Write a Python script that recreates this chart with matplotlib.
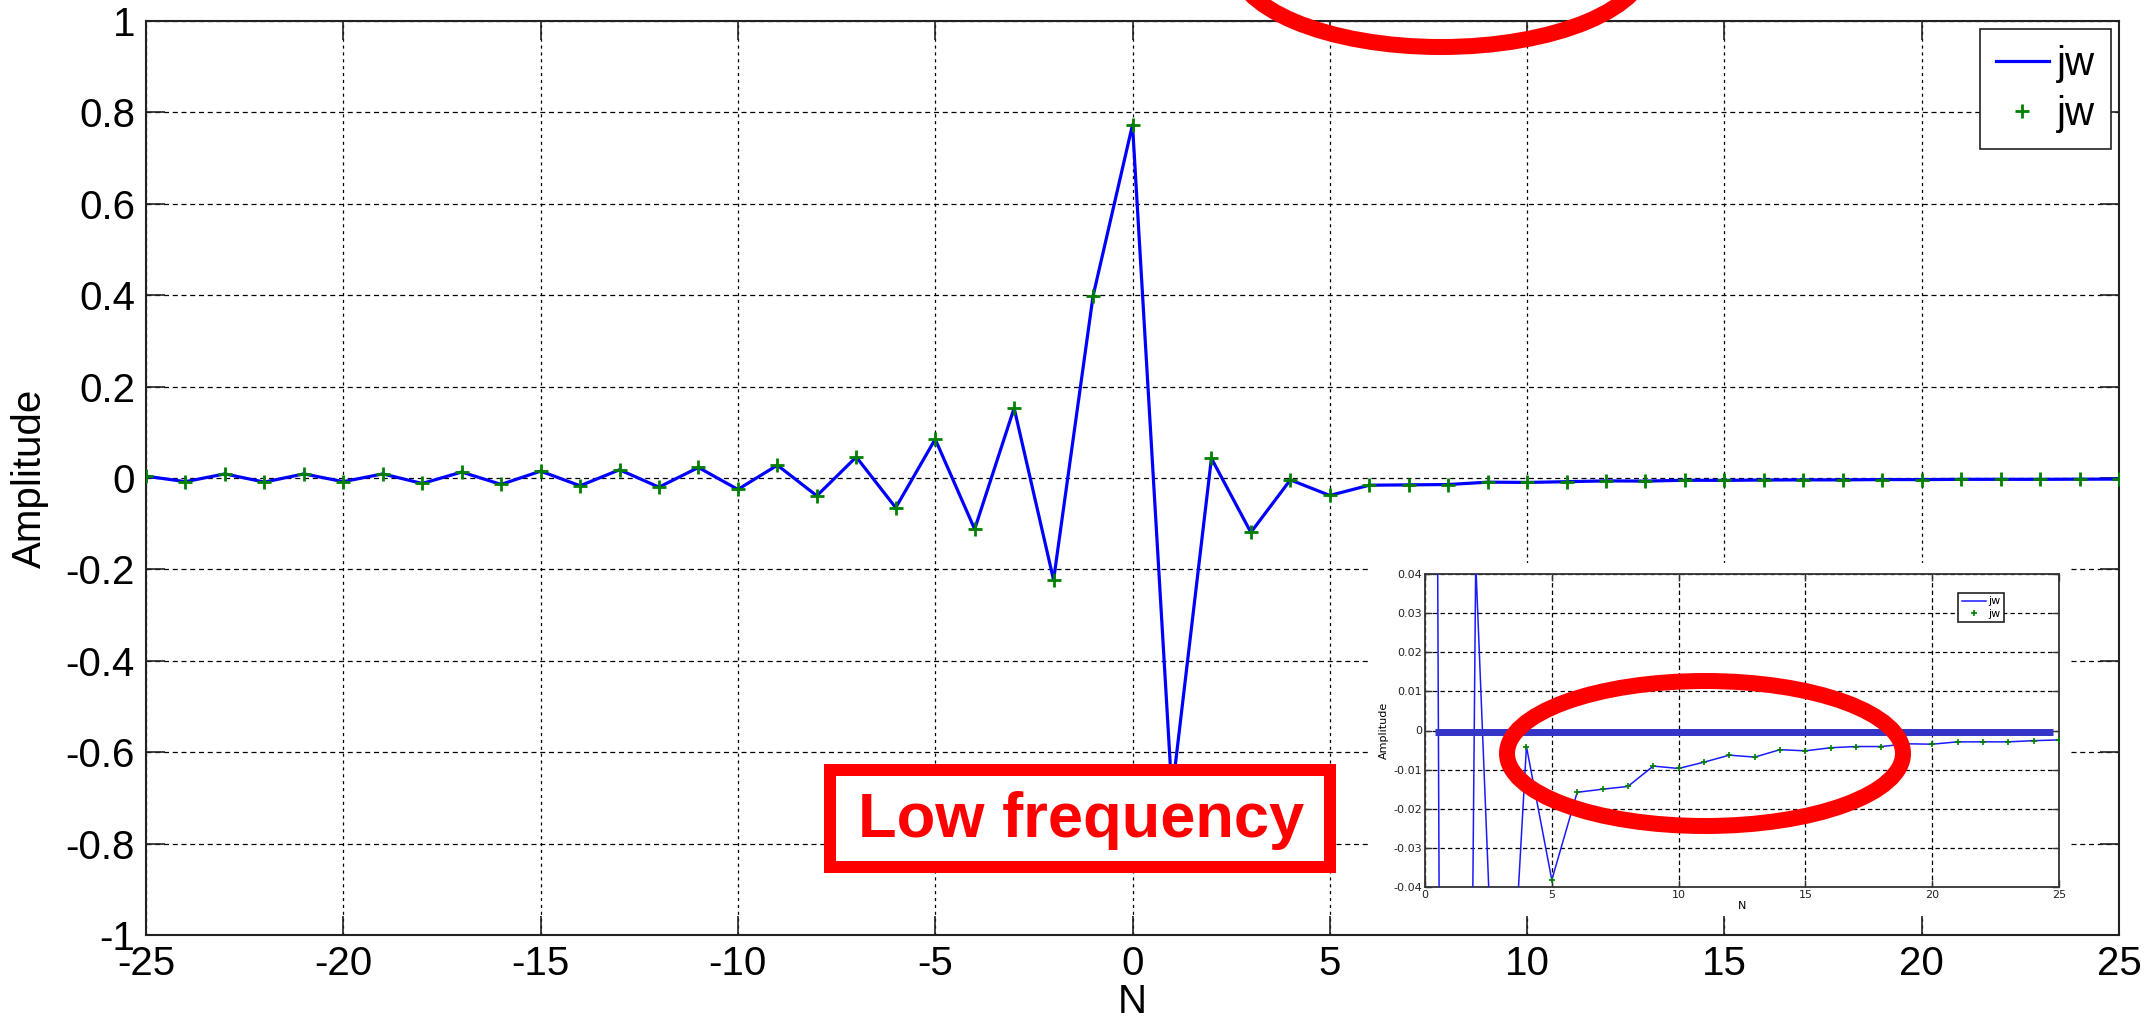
import matplotlib
matplotlib.use('Agg')
import matplotlib.pyplot as plt
from matplotlib.patches import Ellipse, Rectangle

plt.rcParams['font.family'] = ['Liberation Sans', 'DejaVu Sans']

# impulse response samples
n = list(range(-25, 26))
amp = [0.004, -0.008, 0.009, -0.009, 0.009, -0.008, 0.009, -0.012, 0.013, -0.014,
       0.015, -0.017, 0.018, -0.020, 0.023, -0.025, 0.028, -0.039, 0.046, -0.065,
       0.085, -0.112, 0.153, -0.223, 0.398, 0.773, -0.69, 0.043, -0.119, -0.0041,
       -0.0382, -0.0158, -0.0150, -0.0143, -0.0091, -0.0097, -0.0081, -0.0063, -0.0068, -0.0049,
       -0.0052, -0.0044, -0.0041, -0.0041, -0.0034, -0.0035, -0.0029, -0.0029, -0.0029, -0.0026,
       -0.0024]

xticks = list(range(-25, 26, 5))
yticks = [-1, -0.8, -0.6, -0.4, -0.2, 0, 0.2, 0.4, 0.6, 0.8, 1]
ytick_labels = ['-1', '-0.8', '-0.6', '-0.4', '-0.2', '0', '0.2', '0.4', '0.6', '0.8', '1']
zoom_xticks = [0, 5, 10, 15, 20, 25]
zoom_yticks = [-0.04, -0.03, -0.02, -0.01, 0, 0.01, 0.02, 0.03, 0.04]
zoom_ytick_labels = ['-0.04', '-0.03', '-0.02', '-0.01', '0', '0.01', '0.02', '0.03', '0.04']
zero_ref = [0.4, 24.76]   # x span of the reference line in the zoom panel
note_text = 'Low frequency'

W, H = 2144, 1023
PT = 72 / 100.0  # points per pixel at dpi=100
blue = '#0000ff'
green = '#008000'

fig = plt.figure(figsize=(W / 100, H / 100), dpi=100)

def fx(px):
    return px / W

def fy(py):
    return 1 - py / H

# ---- main axes ----
ax = fig.add_axes([fx(146), fy(935), (2119 - 146) / W, (935 - 21) / H])
ax.plot(n, amp, '-', color=blue, lw=2.3, label='jw', zorder=3)
ax.plot(n, amp, '+', color=green, ms=10, mew=2, label='jw', zorder=4)
ax.set_xlim(-25, 25)
ax.set_ylim(-1, 1)
ax.set_xticks(xticks)
ax.set_xticklabels([str(v) for v in xticks])
ax.set_yticks(yticks)
ax.set_yticklabels(ytick_labels)
ax.tick_params(direction='in', top=True, right=True, length=14, width=1.2,
               labelsize=29, colors='#222222', labelcolor='black')
ax.tick_params(axis='x', pad=7)
ax.tick_params(axis='y', pad=8)
ax.xaxis.grid(True, color='k', linestyle=(0, (2.5, 3)), lw=0.9)
ax.yaxis.grid(True, color='k', linestyle=(0, (4, 3)), lw=0.9)
for s in ax.spines.values():
    s.set_linewidth(1.5)
    s.set_color('#222222')
ax.set_xlabel('N', fontsize=29, labelpad=0)
ax.set_ylabel('Amplitude', fontsize=29)
ax.yaxis.set_label_coords(-0.049, 0.5)
leg = ax.legend(loc='upper right', fontsize=29, frameon=True, fancybox=False,
                edgecolor='#222222', framealpha=1, handlelength=1.3, handletextpad=0.2,
                borderaxespad=0.2, borderpad=0.4, labelspacing=0.3, numpoints=1)
leg.get_frame().set_linewidth(1.2)

# ---- zoomed panel ----
fig.add_artist(Rectangle((fx(1370), fy(915)), 699 / W, 352 / H, transform=fig.transFigure,
                         fc='white', ec='none', zorder=3))
axi = fig.add_axes([fx(1425), fy(887), (2059 - 1425) / W, (887 - 574) / H], zorder=4)
axi.plot(n, amp, '-', color='#1a1aff', lw=1.1, label='jw', zorder=3)
axi.plot(n, amp, '+', color=green, ms=5, mew=1.2, label='jw', zorder=4)
axi.plot(zero_ref, [-0.0003, -0.0003], '-', color='#3535c8', lw=7 * PT,
         solid_capstyle='butt', zorder=5)
axi.set_xlim(0, 25)
axi.set_ylim(-0.04, 0.04)
axi.set_xticks(zoom_xticks)
axi.set_yticks(zoom_yticks)
axi.set_yticklabels(zoom_ytick_labels)
axi.tick_params(direction='in', top=True, right=True, length=5, width=1,
                labelsize=8, pad=2, colors='#333333', labelcolor='#222222',
                labelfontfamily='DejaVu Sans')
axi.grid(True, color='k', linestyle=(0, (3.5, 2.5)), lw=0.9)
for s in axi.spines.values():
    s.set_linewidth(1.3)
    s.set_color('#333333')
axi.set_xlabel('N', fontsize=8, labelpad=1, family='DejaVu Sans')
axi.set_ylabel('Amplitude', fontsize=8, labelpad=3, family='DejaVu Sans')
legi = axi.legend(loc='upper right', bbox_to_anchor=(0.913, 0.939), borderaxespad=0,
                  prop={'family': 'DejaVu Sans', 'size': 8}, frameon=True, fancybox=False,
                  edgecolor='#222222', framealpha=1, handlelength=2.2, handletextpad=0.2,
                  borderpad=0.3, labelspacing=0.2, numpoints=1)
legi.get_frame().set_linewidth(1.2)

# ---- red highlights ----
fig.add_artist(Ellipse((fx(1441), fy(-40)), 2 * 207 / W, 2 * 87 / H, transform=fig.transFigure,
                       fill=False, ec='red', lw=16 * PT, zorder=9))
fig.add_artist(Ellipse((fx(1705), fy(753.5)), 2 * 198 / W, 2 * 72.5 / H, transform=fig.transFigure,
                       fill=False, ec='red', lw=16 * PT, zorder=9))
fig.add_artist(Rectangle((fx(830), fy(867)), 500 / W, 97 / H, transform=fig.transFigure,
                         fc='white', ec='red', lw=12 * PT, joinstyle='miter', zorder=7))
fig.text(fx(1081), fy(820), note_text, ha='center', va='center', fontsize=45.5,
         fontweight='bold', color='red', family='Liberation Sans', zorder=8)

fig.savefig('out.png', dpi=100)
